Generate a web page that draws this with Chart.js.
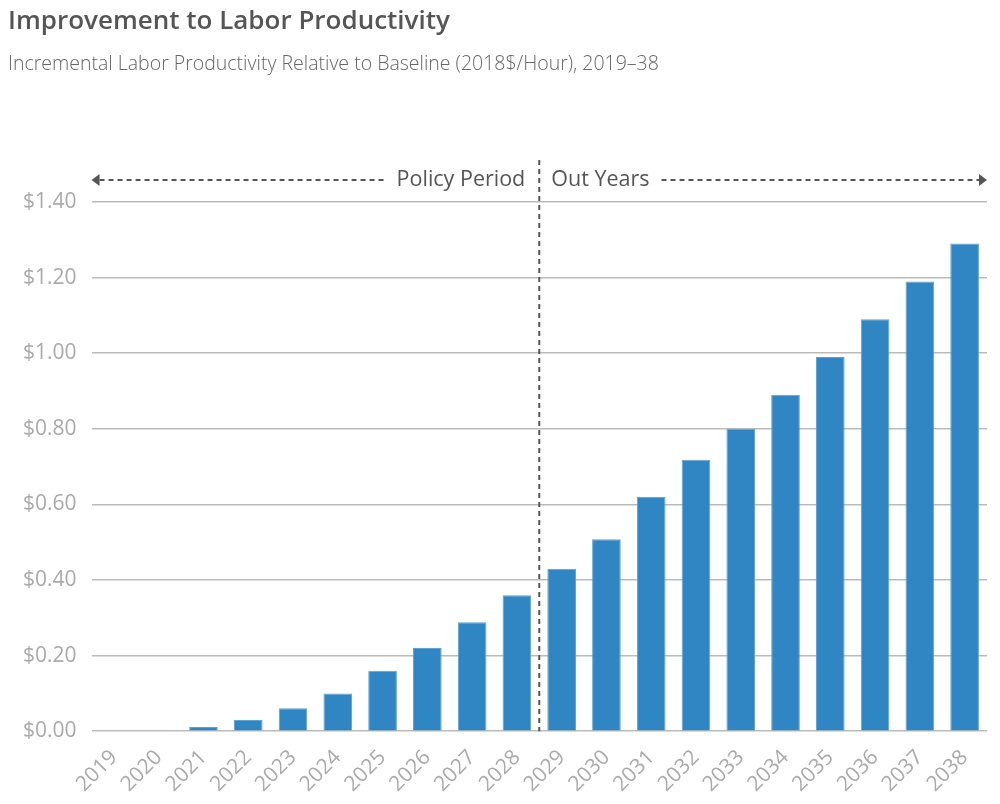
<!DOCTYPE html>
<html>
<head>
<meta charset="utf-8">
<script src="https://cdn.jsdelivr.net/npm/chart.js@4"></script>
<style>
    body { margin: 0; background: #fff; font-family: 'Open Sans', sans-serif; }
    #wrap { position: relative; width: 1000px; height: 804px; }
    #title { position: absolute; left: 8px; top: 1px; font-size: 26px; font-weight: 600; color: #555; }
    #subtitle { position: absolute; left: 8px; top: 49px; font-size: 19.5px; font-weight: 300; color: #666; }
    canvas { position: absolute; left: 0; top: 0; }
</style>
</head>
<body>
<div id="wrap">
    <canvas id="chart" width="1000" height="804"></canvas>
    <div id="title">Improvement to Labor Productivity</div>
    <div id="subtitle">Incremental Labor Productivity Relative to Baseline (2018$/Hour), 2019–38</div>
</div>
<script>
// Data
const years = ['2019', '2020', '2021', '2022', '2023', '2024', '2025', '2026', '2027', '2028',
    '2029', '2030', '2031', '2032', '2033', '2034', '2035', '2036', '2037', '2038'];
const productivity = [0, 0.002, 0.011, 0.03, 0.061, 0.10, 0.16, 0.22, 0.288, 0.36,
    0.43, 0.508, 0.62, 0.718, 0.80, 0.89, 0.99, 1.09, 1.19, 1.29];
const periodLabels = ['Policy Period', 'Out Years'];
const lastPolicyIndex = 9; // 2028

// Period divider + arrows
const periodPlugin = {
    id: 'periodPlugin',
    afterDatasetsDraw(chart) {
        const { ctx, chartArea, scales } = chart;
        const x = (scales.x.getPixelForValue(lastPolicyIndex) + scales.x.getPixelForValue(lastPolicyIndex + 1)) / 2;
        const y = chartArea.top - 22;
        const color = '#555';

        ctx.save();
        ctx.strokeStyle = color;
        ctx.fillStyle = color;
        ctx.lineWidth = 2;
        ctx.setLineDash([5, 4]);

        // vertical divider
        ctx.beginPath();
        ctx.moveTo(x, chartArea.top - 42);
        ctx.lineTo(x, chartArea.bottom);
        ctx.stroke();

        // labels
        ctx.font = '21.5px "Open Sans"';
        ctx.textBaseline = 'middle';
        ctx.textAlign = 'right';
        ctx.fillText(periodLabels[0], x - 14, y);
        const wLeft = ctx.measureText(periodLabels[0]).width;
        ctx.textAlign = 'left';
        ctx.fillText(periodLabels[1], x + 12, y);
        const wRight = ctx.measureText(periodLabels[1]).width;

        // dashed arrows
        ctx.beginPath();
        ctx.moveTo(chartArea.left + 8, y);
        ctx.lineTo(x - 14 - wLeft - 10, y);
        ctx.moveTo(x + 12 + wRight + 12, y);
        ctx.lineTo(chartArea.right - 8, y);
        ctx.stroke();

        ctx.setLineDash([]);
        ctx.beginPath();
        ctx.moveTo(chartArea.left, y);
        ctx.lineTo(chartArea.left + 8, y - 6);
        ctx.lineTo(chartArea.left + 8, y + 6);
        ctx.closePath();
        ctx.fill();
        ctx.beginPath();
        ctx.moveTo(chartArea.right, y);
        ctx.lineTo(chartArea.right - 8, y - 6);
        ctx.lineTo(chartArea.right - 8, y + 6);
        ctx.closePath();
        ctx.fill();
        ctx.restore();
    }
};

new Chart(document.getElementById('chart').getContext('2d'), {
    type: 'bar',
    data: {
        labels: years,
        datasets: [{
            data: productivity,
            backgroundColor: '#2f86c3',
            borderColor: '#5da2d3',
            borderWidth: 1,
            categoryPercentage: 1,
            barPercentage: 0.64
        }]
    },
    options: {
        responsive: false,
        animation: false,
        devicePixelRatio: 1,
        layout: { padding: { top: 202, right: 13, left: 8, bottom: 1 } },
        plugins: {
            legend: { display: false },
            tooltip: { enabled: false }
        },
        scales: {
            x: {
                grid: { display: false },
                border: { display: false },
                ticks: {
                    color: '#aaa',
                    font: { family: 'Open Sans', size: 21 },
                    minRotation: 45,
                    maxRotation: 45,
                    padding: 6
                }
            },
            y: {
                min: 0,
                max: 1.4,
                border: { display: false },
                grid: { color: '#bbb', lineWidth: 1.5, drawTicks: false },
                ticks: {
                    stepSize: 0.2,
                    color: '#aaa',
                    padding: 15,
                    font: { family: 'Open Sans', size: 21 },
                    callback: v => '$' + Number(v).toFixed(2)
                }
            }
        }
    },
    plugins: [periodPlugin]
});
</script>
</body>
</html>
